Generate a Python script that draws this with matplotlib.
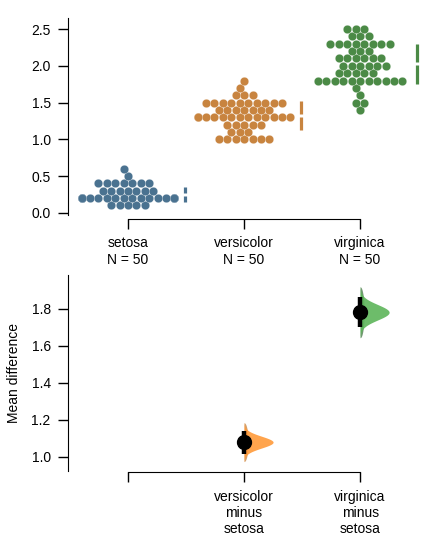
import numpy as np
import matplotlib
matplotlib.use("Agg")
import matplotlib.pyplot as plt

plt.rcParams['font.family'] = ['Liberation Sans', 'DejaVu Sans']
plt.rcParams['font.size'] = 10

# iris petal width, value -> count
groups = ['setosa', 'versicolor', 'virginica']
setosa_vals = [0.1, 0.2, 0.3, 0.4, 0.5, 0.6]
setosa_cnts = [5, 29, 7, 7, 1, 1]
versicolor_vals = [1.0, 1.1, 1.2, 1.3, 1.4, 1.5, 1.6, 1.7, 1.8]
versicolor_cnts = [7, 3, 5, 13, 7, 10, 3, 1, 1]
virginica_vals = [1.4, 1.5, 1.6, 1.7, 1.8, 1.9, 2.0, 2.1, 2.2, 2.3, 2.4, 2.5]
virginica_cnts = [1, 2, 1, 1, 11, 5, 6, 6, 3, 8, 3, 3]

swarm_colors = ['#4a7290', '#c8843f', '#4b8a46']
violin_colors = ['#ff9a3a', '#5db55a']
violin_edge = ['#c98a4a', '#4f7f4f']
diff_labels = ['versicolor\nminus\nsetosa', 'virginica\nminus\nsetosa']

values = {
    'setosa': np.repeat(setosa_vals, setosa_cnts),
    'versicolor': np.repeat(versicolor_vals, versicolor_cnts),
    'virginica': np.repeat(virginica_vals, virginica_cnts),
}


def beeswarm(ypix, d, half_width):
    # place points (pixel units) one by one as close to centre as possible
    order = np.argsort(ypix, kind='stable')
    placed = []
    xs = np.zeros(len(ypix))
    for idx in order:
        y = ypix[idx]
        near = [(px, py) for px, py in placed if abs(py - y) < d]
        cands = [0.0]
        for px, py in near:
            dx = np.sqrt(d ** 2 - (py - y) ** 2)
            cands += [px + dx, px - dx]
        cands = sorted(cands, key=lambda c: (abs(c), c))
        for c in cands:
            if all((c - px) ** 2 + (y - py) ** 2 >= d ** 2 - 1e-6 for px, py in near):
                break
        placed.append((c, y))
        xs[idx] = np.clip(c, -half_width, half_width)
    return xs


fig = plt.figure(figsize=(4.36, 5.47), dpi=100)
ax1 = fig.add_axes([0.156, 0.607, 0.819, 0.360])
ax2 = fig.add_axes([0.156, 0.139, 0.819, 0.358])

# top: swarm plot with mean +/- sd gapped lines
ax1.set_xlim(-0.517, 2.56)
ax1.set_ylim(-0.03, 2.65)
dot_pt = 6.1
dot_px = dot_pt * fig.dpi / 72
unit_px = ax1.transData.transform((1, 0))[0] - ax1.transData.transform((0, 0))[0]
for i, g in enumerate(groups):
    v = values[g]
    pix = ax1.transData.transform(np.column_stack([np.full(len(v), i), v]))
    off = beeswarm(pix[:, 1], dot_px, 0.4 * unit_px)
    xdata = ax1.transData.inverted().transform(
        np.column_stack([pix[:, 0] + off, pix[:, 1]]))[:, 0]
    ax1.scatter(xdata, v, s=dot_pt ** 2, color=swarm_colors[i],
                edgecolor=(1, 1, 1, 0.45), linewidth=0.4, zorder=2)
    m = v.mean()
    s = v.std(ddof=1)
    gap = 0.02
    ax1.plot([i + 0.49] * 2, [m - s, m - gap], color=swarm_colors[i], lw=2.3,
             solid_capstyle='butt')
    ax1.plot([i + 0.49] * 2, [m + gap, m + s], color=swarm_colors[i], lw=2.3,
             solid_capstyle='butt')

ax1.set_xticks(range(3))
ax1.set_xticklabels([f'{g}\nN = {len(values[g])}' for g in groups])
ax1.set_yticks([0.0, 0.5, 1.0, 1.5, 2.0, 2.5])
ax1.spines['top'].set_visible(False)
ax1.spines['right'].set_visible(False)
ax1.spines['bottom'].set_position(('outward', 3))
ax1.spines['bottom'].set_bounds(0, 2)
ax1.tick_params(length=7.5, width=1, pad=5)

# bottom: mean differences with half violins
ax2.set_xlim(-0.517, 2.56)
ax2.set_ylim(0.9245, 1.98)
ref = values['setosa']
for k, g in enumerate(groups[1:]):
    x = k + 1
    test = values[g]
    d = test.mean() - ref.mean()
    se = np.sqrt(test.var(ddof=1) / len(test) + ref.var(ddof=1) / len(ref))
    yy = np.linspace(d - 3.3 * se, d + 3.3 * se, 200)
    dens = np.exp(-0.5 * ((yy - d) / se) ** 2)
    dens = dens / dens.max() * 0.25
    # thin darker base strip along the left edge
    base = 0.035 * np.sqrt(np.clip(1 - ((yy - d) / (3.3 * se)) ** 2, 0, 1))
    ax2.fill_betweenx(yy, x, x + base, color=violin_edge[k], alpha=0.8, lw=0)
    ax2.fill_betweenx(yy, x, x + dens, color=violin_colors[k], alpha=0.9,
                      lw=0)
    ax2.plot([x, x], [d - 1.96 * se, d + 1.96 * se], color='black', lw=3.2,
             solid_capstyle='butt', zorder=3)
    ax2.plot(x, d, 'o', color='black', ms=10, zorder=4)

ax2.set_xticks(range(3))
ax2.set_xticklabels([''] + diff_labels)
ax2.set_yticks([1.0, 1.2, 1.4, 1.6, 1.8])
ax2.set_ylabel('Mean difference')
ax2.yaxis.set_label_coords(-0.132, 0.5)
ax2.spines['top'].set_visible(False)
ax2.spines['right'].set_visible(False)
ax2.spines['bottom'].set_position(('outward', 1))
ax2.spines['bottom'].set_bounds(0, 2)
ax2.tick_params(length=7.5, width=1, pad=5)

fig.savefig('out.png', dpi=100)
